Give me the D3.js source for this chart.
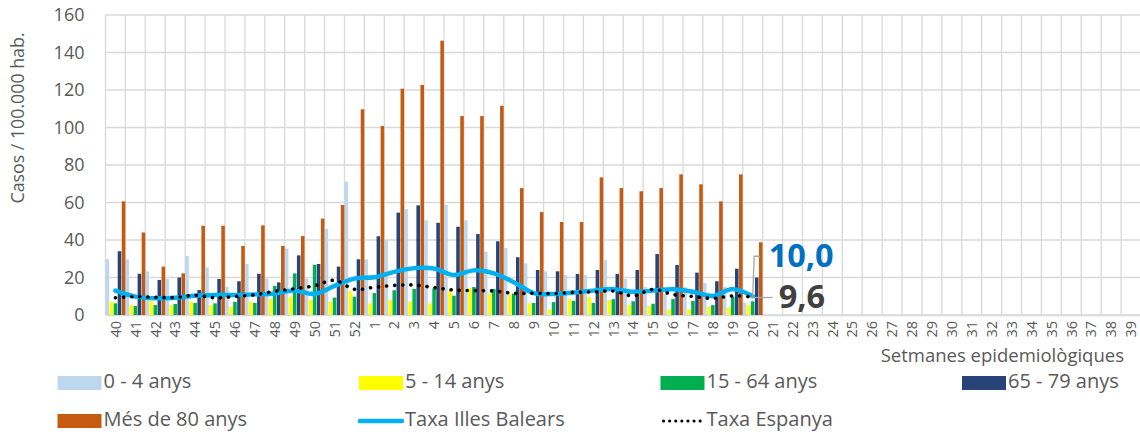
<!DOCTYPE html>
<html><head><meta charset="utf-8">
<script src="https://cdn.jsdelivr.net/npm/d3@7"></script>
<style>
body{margin:0;background:#fff;}
svg text{font-family:"Open Sans","Noto Sans",sans-serif;}
</style></head>
<body><svg id="chart" width="1140" height="434"></svg>
<script>
// ---- data ----
const weeks = ["40","41","42","43","44","45","46","47","48","49","50","51","52",
  "1","2","3","4","5","6","7","8","9","10","11","12","13","14","15","16","17","18","19","20",
  "21","22","23","24","25","26","27","28","29","30","31","32","33","34","35","36","37","38","39"];
const seriesNames = ["0 - 4 anys","5 - 14 anys","15 - 64 anys","65 - 79 anys","Més de 80 anys"];
const age0_4   = [29.7,29.7,23.3,19.2,31.5,25.4,15,27.2,19.4,35.5,19.4,46,71.1,
  29.7,40,56.5,50.5,58.8,50.5,33.8,35.7,27.5,23.3,21.3,21.3,29.5,19.2,15,11,15,17,15,6.6];
const age5_14  = [7,5.3,7.5,5.3,7,5.3,4.4,7,8.5,9.8,8,7.1,12.8,
  6.2,8,7.1,6.2,12.8,14.2,11.4,10.7,6.2,3,8.5,9.6,8,5.3,4.8,3,3,4.4,4,5.3];
const age15_64 = [6.2,4.8,5.3,5.9,6.4,6.2,7,6.4,15.5,22.2,26.8,9.3,9.8,
  11.7,13.2,13.9,14.1,10.3,14.9,13.9,11.4,6.4,6.9,7.5,6.4,8.4,7.3,6,8.5,7.5,5.3,9.8,7.3];
const age65_79 = [34,22,18.7,20,13.3,19.2,18,22,17.4,31.8,27.2,25.8,29.7,
  42,54.6,58.5,49.2,47.1,43.2,39.3,30.8,24,23.3,21.9,24,21.9,24,32.5,26.7,22.6,18,24.7,20];
const age80    = [60.6,44,25.8,22.2,47.6,47.6,36.8,47.8,36.8,42.1,51.4,58.7,109.7,
  100.8,120.7,122.7,146.3,106.1,106.1,111.6,67.7,54.9,49.6,49.6,73.4,67.7,66,67.7,75,69.7,60.6,75,38.8];
const taxaBalears = [13,9.8,8.9,9.2,10.3,10.7,10.7,11,11.5,13,11.2,15.5,19.4,
  20.1,23,25,24.8,21.3,23.8,22.2,17.5,11.7,11.2,12,13,13.8,12.4,13,13.7,12.4,10.1,13.8,10.0];
const taxaEspanya = [9.2,9.8,9.4,9.3,10.5,9.2,9.9,10.8,12.6,14,15.6,18.5,13.7,
  14.8,15.8,16,14.6,13.3,13,12.8,11.6,11.6,11.4,12.1,12.3,12.8,10.2,13.7,10.9,9.9,8.9,10.2,9.6];
const yTicks = [0,20,40,60,80,100,120,140,160];
const lineNames = ["Taxa Illes Balears","Taxa Espanya"];

// ---- setup ----
const barSeries = [age0_4, age5_14, age15_64, age65_79, age80];
const barColors = ["#BDD7EE","#FFFF00","#00B050","#264478","#C55A11"];
const svg = d3.select("#chart");
const pL = 105.5, pR = 1141, pT = 15, pB = 315;
const x = d3.scaleBand().domain(weeks).range([pL, pR]).padding(0);
const xs = d3.scaleBand().domain(seriesNames).range([0, x.bandwidth()]).paddingInner(0.12).paddingOuter(0.03);
const y = d3.scaleLinear().domain([0,160]).range([pB, pT]);
const grid = "#D9D9D9", txt = "#595959";

// gridlines
svg.append("g").selectAll("line").data(yTicks).join("line")
  .attr("x1", pL).attr("x2", pR).attr("y1", d=>y(d)).attr("y2", d=>y(d))
  .attr("stroke", grid).attr("stroke-width", 1.3);
svg.append("g").selectAll("line").data(weeks).join("line")
  .attr("x1", d=>x(d)).attr("x2", d=>x(d)).attr("y1", pT).attr("y2", pB)
  .attr("stroke", grid).attr("stroke-width", 1.3);

// y axis
const ya = svg.append("g").attr("transform", `translate(${pL},0)`)
  .call(d3.axisLeft(y).tickValues(yTicks).tickSize(0).tickPadding(21));
ya.select(".domain").remove();
ya.selectAll("text").attr("font-size", 18).attr("fill", txt).style("font-family", '"Open Sans",sans-serif');

// y title
svg.append("text").attr("transform", "translate(24,118) rotate(-90)")
  .attr("text-anchor", "middle").attr("font-size", 17.8).attr("fill", txt)
  .text("Casos / 100.000 hab.");

// x axis
const xa = svg.append("g").attr("transform", `translate(0,${pB})`)
  .call(d3.axisBottom(x).tickSize(0));
xa.select(".domain").attr("stroke", grid).attr("stroke-width", 1.3);
xa.selectAll("text").attr("transform", "rotate(-90)").attr("x", -6).attr("y", 0)
  .attr("dy", "0.36em").attr("text-anchor", "end")
  .attr("font-size", 14.5).attr("fill", txt).style("font-family", '"Open Sans",sans-serif');

svg.append("text").attr("x", 1124).attr("y", 362).attr("text-anchor", "end")
  .attr("font-size", 18.5).attr("fill", txt).text("Setmanes epidemiològiques");

// bars
barSeries.forEach((vals, si) => {
  svg.append("g").selectAll("rect").data(vals).join("rect")
    .attr("x", (d,i)=> x(weeks[i]) + xs(seriesNames[si]))
    .attr("width", xs.bandwidth())
    .attr("y", d=>y(d)).attr("height", d=> y(0)-y(d))
    .attr("fill", barColors[si]);
});

// lines
const cx = i => x(weeks[i]) + x.bandwidth()/2;
const line = d3.line().x((d,i)=>cx(i)).y(d=>y(d)).curve(d3.curveCatmullRom.alpha(0.5));
svg.append("path").datum(taxaBalears).attr("d", line).attr("fill","none")
  .attr("stroke","#00B0F0").attr("stroke-width",4.5).attr("stroke-linecap","round");
svg.append("path").datum(taxaEspanya).attr("d", line).attr("fill","none")
  .attr("stroke","#000").attr("stroke-width",3.6).attr("stroke-linecap","round")
  .attr("stroke-dasharray","0.1 8");

// end labels
const li = taxaBalears.length - 1;
const fmt = v => d3.format(".1f")(v).replace(".", ",");
const lx = cx(li);
svg.append("polyline")
  .attr("points", `${lx},${y(taxaBalears[li])} ${lx+1.5},${y(taxaBalears[li])-40} ${lx+7.5},${y(taxaBalears[li])-40}`)
  .attr("fill","none").attr("stroke","#A6A6A6").attr("stroke-width",1.3);
svg.append("line").attr("x1", lx-2).attr("x2", lx+20)
  .attr("y1", y(taxaEspanya[li])+0.5).attr("y2", y(taxaEspanya[li])+0.5)
  .attr("stroke","#A6A6A6").attr("stroke-width",1.3);
svg.append("text").attr("x", lx+16).attr("y", y(taxaBalears[li])-38).attr("dominant-baseline","middle")
  .attr("font-size", 32.5).attr("font-weight","bold").attr("fill","#0070C0").text(fmt(taxaBalears[li]));
svg.append("text").attr("x", lx+26).attr("y", y(taxaEspanya[li])+2).attr("dominant-baseline","middle")
  .attr("font-size", 32.5).attr("font-weight","bold").attr("fill","#404040").text(fmt(taxaEspanya[li]));

// legend
const legendItems = seriesNames.map((n,i)=>({name:n, type:"rect", color:barColors[i]}))
  .concat([{name:lineNames[0], type:"line", color:"#00B0F0"},{name:lineNames[1], type:"dot", color:"#000"}]);
const lg = svg.append("g");
legendItems.forEach((it, i) => {
  const col = i % 4, row = Math.floor(i / 4);
  const gx = 57.5 + col * 301.5, gy = 383 + row * 38;
  const g = lg.append("g").attr("transform", `translate(${gx},${gy})`);
  if (it.type === "rect") g.append("rect").attr("x",0).attr("y",-7).attr("width",44).attr("height",14).attr("fill",it.color);
  else if (it.type === "line") g.append("line").attr("x1",1).attr("x2",43).attr("y1",0).attr("y2",0)
    .attr("stroke",it.color).attr("stroke-width",4.5).attr("stroke-linecap","round");
  else g.append("line").attr("x1",3).attr("x2",43).attr("y1",0).attr("y2",0)
    .attr("stroke",it.color).attr("stroke-width",3).attr("stroke-linecap","round").attr("stroke-dasharray","0.1 6");
  g.append("text").attr("x",46).attr("y",0).attr("dominant-baseline","middle")
    .attr("font-size",20).attr("fill",txt).text(it.name);
});
</script>
</body></html>
